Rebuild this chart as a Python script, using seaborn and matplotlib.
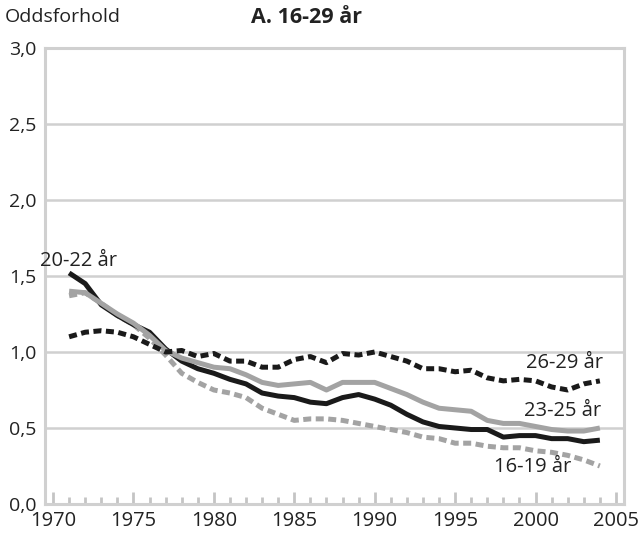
import numpy as np
import pandas as pd
import matplotlib
matplotlib.use('Agg')
import matplotlib.pyplot as plt
from matplotlib.ticker import MultipleLocator, FuncFormatter
import seaborn as sns

years = list(range(1971, 2005))

age_16_19 = [1.37, 1.39, 1.32, 1.24, 1.18, 1.09, 0.98, 0.86, 0.80, 0.75, 0.73, 0.70,
             0.63, 0.59, 0.55, 0.56, 0.56, 0.55, 0.53, 0.51, 0.49, 0.47, 0.44, 0.43,
             0.40, 0.40, 0.38, 0.37, 0.37, 0.35, 0.34, 0.32, 0.29, 0.25]
age_20_22 = [1.52, 1.45, 1.31, 1.24, 1.18, 1.13, 1.02, 0.94, 0.89, 0.86, 0.82, 0.79,
             0.73, 0.71, 0.70, 0.67, 0.66, 0.70, 0.72, 0.69, 0.65, 0.59, 0.54, 0.51,
             0.50, 0.49, 0.49, 0.44, 0.45, 0.45, 0.43, 0.43, 0.41, 0.42]
age_23_25 = [1.40, 1.39, 1.32, 1.25, 1.19, 1.11, 1.01, 0.96, 0.93, 0.90, 0.89, 0.85,
             0.80, 0.78, 0.79, 0.80, 0.75, 0.80, 0.80, 0.80, 0.76, 0.72, 0.67, 0.63,
             0.62, 0.61, 0.55, 0.53, 0.53, 0.51, 0.49, 0.48, 0.48, 0.50]
age_26_29 = [1.10, 1.13, 1.14, 1.13, 1.10, 1.05, 1.00, 1.01, 0.97, 0.99, 0.94, 0.94,
             0.90, 0.90, 0.95, 0.97, 0.93, 0.99, 0.98, 1.00, 0.97, 0.94, 0.89, 0.89,
             0.87, 0.88, 0.83, 0.81, 0.82, 0.81, 0.77, 0.75, 0.79, 0.81]

series = [
    ('16-19 år', age_16_19, '#a3a3a3', (0, (1.6, 0.9))),
    ('20-22 år', age_20_22, '#1a1a1a', '-'),
    ('23-25 år', age_23_25, '#a3a3a3', '-'),
    ('26-29 år', age_26_29, '#1a1a1a', (0, (1.6, 0.9))),
]

sns.set_style('white')
plt.rcParams['font.family'] = ['Open Sans', 'DejaVu Sans']

fig = plt.figure(figsize=(6.39, 5.41), dpi=100)
ax = fig.add_axes([0.0704, 0.0684, 0.9061, 0.8429])

grid_col = '#d0d0d0'
for name, vals, col, ls in series:
    df = pd.DataFrame({'år': years, 'odds': vals})
    sns.lineplot(data=df, x='år', y='odds', ax=ax, color=col, linewidth=3.6,
                 linestyle=ls, zorder=3)
for l in ax.get_lines():
    l.set_dash_capstyle('butt')
    l.set_solid_capstyle('butt')

ax.set_xlim(1969.5, 2005.5)
ax.set_ylim(0, 3.0)
ax.yaxis.set_major_locator(MultipleLocator(0.5))
ax.yaxis.set_major_formatter(FuncFormatter(lambda v, p: f'{v:.1f}'.replace('.', ',')))
ax.xaxis.set_major_locator(MultipleLocator(5))
ax.xaxis.set_minor_locator(MultipleLocator(1))
ax.grid(axis='y', color=grid_col, linewidth=1.8, zorder=0)
ax.set_axisbelow(True)

for s in ax.spines.values():
    s.set_color(grid_col)
    s.set_linewidth(2.2)

ax.tick_params(axis='x', which='both', bottom=True)
ax.tick_params(axis='x', which='major', direction='in', length=9, width=2,
               color='#c4c4c4', labelsize=14.5, labelcolor='#222222', pad=5)
ax.tick_params(axis='x', which='minor', direction='in', length=5, width=2,
               color='#c4c4c4')
ax.tick_params(axis='y', length=0, labelsize=14, labelcolor='#222222', pad=6)
ax.set_xlabel('')
ax.set_ylabel('')

txt = dict(fontsize=14.5, color='#222222')
ax.text(1969.2, 1.60, '20-22 år', ha='left', va='center', **txt)
ax.text(2004.2, 0.93, '26-29 år', ha='right', va='center', **txt)
ax.text(2004.1, 0.61, '23-25 år', ha='right', va='center', **txt)
ax.text(2002.2, 0.245, '16-19 år', ha='right', va='center', **txt)

fig.text(0.008, 0.968, 'Oddsforhold', ha='left', va='center', fontsize=14, color='#222222')
fig.text(0.479, 0.968, 'A. 16-29 år', ha='center', va='center', fontweight='bold',
         fontsize=15.5, color='#222222')

fig.savefig('out.png', dpi=100)
